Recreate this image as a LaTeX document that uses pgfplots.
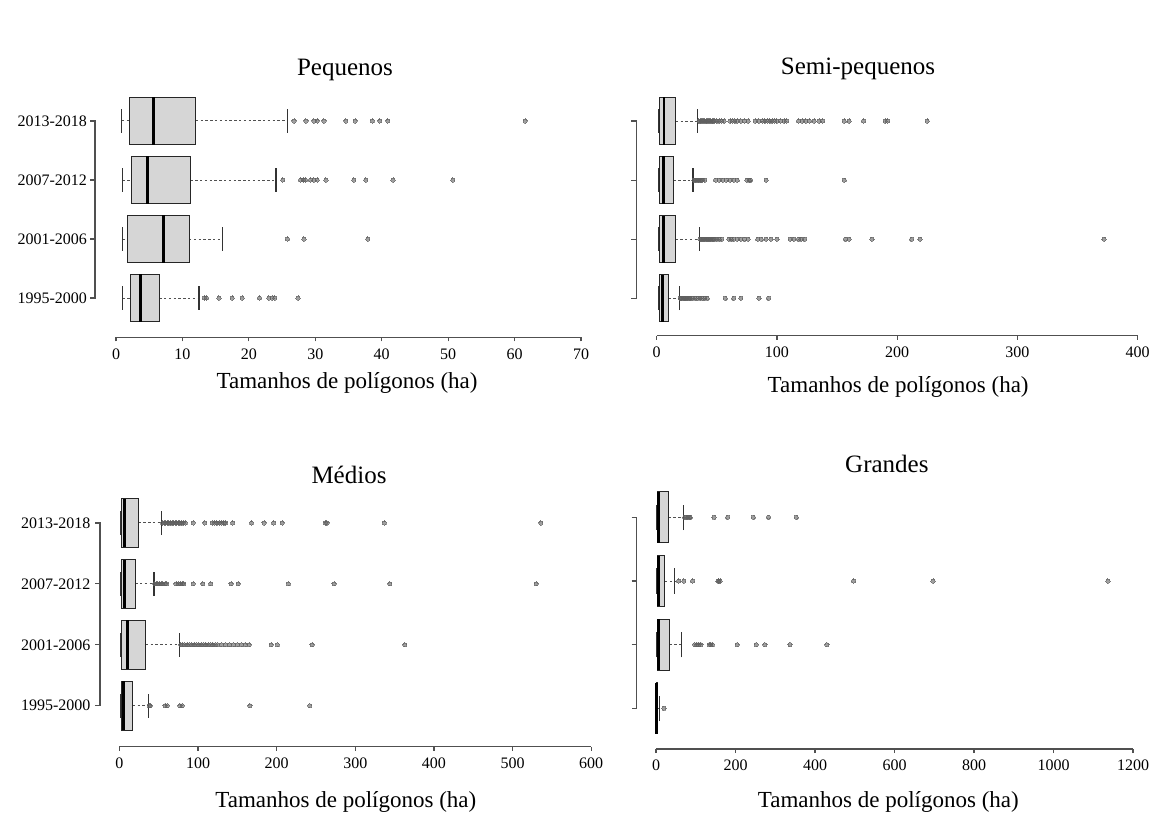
\documentclass[border=0pt]{standalone}
\usepackage{fontspec}
\setmainfont{Liberation Serif}
\usepackage{pgfplots}
\pgfplotsset{compat=1.18}
\usepgfplotslibrary{statistics}
\definecolor{boxgray}{RGB}{214,214,214}
\definecolor{axgray}{RGB}{80,80,80}
\definecolor{ptgray}{RGB}{95,95,95}
\newcommand\titlefont{\fontsize{12.5}{14}\selectfont}
\newcommand\labelfont{\fontsize{11.5}{13}\selectfont}
\pgfplotsset{
  rpanel/.style={
    scale only axis, anchor=south west, clip=false,
    axis x line=bottom, axis y line=left,
    axis line style={-, draw=axgray, line width=0.6pt},
    y axis line style={draw=none},
    ytick={1,2,3,4},
    ytick style={draw=none},
    tick align=outside,
    xtick style={draw=axgray, line width=0.6pt},
    major tick length=2pt,
    tick label style={font=\fontsize{8}{9}\selectfont, text=black},
    yticklabel style={xshift=-9pt},
    /pgf/number format/assume math mode=true,
    /pgf/number format/1000 sep={},
    scaled x ticks=false,
    ymax=4.5,
    xlabel={Tamanhos de polígonos (ha)},
  },
  rbox/.style={
    boxplot/draw direction=x,
    boxplot/box extend=0.8,
    boxplot/whisker extend=0.4,
    boxplot/every box/.style={draw=black!85, fill=boxgray, line width=0.5pt},
    boxplot/every median/.style={draw=black, line width=1.4pt},
    boxplot/draw/lower whisker/.code={
      \draw[axgray, line width=0.5pt, dash pattern=on 1.2pt off 1.2pt]
        (boxplot box cs:\pgfplotsboxplotvalue{lower whisker},0.5) --
        (boxplot box cs:\pgfplotsboxplotvalue{lower quartile},0.5);
      \draw[black!80, line width=0.5pt]
        (boxplot whisker cs:\pgfplotsboxplotvalue{lower whisker},0) --
        (boxplot whisker cs:\pgfplotsboxplotvalue{lower whisker},1);
    },
    boxplot/draw/upper whisker/.code={
      \draw[axgray, line width=0.5pt, dash pattern=on 1.2pt off 1.2pt]
        (boxplot box cs:\pgfplotsboxplotvalue{upper quartile},0.5) --
        (boxplot box cs:\pgfplotsboxplotvalue{upper whisker},0.5);
      \draw[black!80, line width=0.6pt]
        (boxplot whisker cs:\pgfplotsboxplotvalue{upper whisker},0) --
        (boxplot whisker cs:\pgfplotsboxplotvalue{upper whisker},1);
    },
  },
  rout/.style={only marks, color=ptgray, mark=*, mark size=1.05pt,
    mark options={fill=ptgray, draw=ptgray, line width=0pt, opacity=0.6}},
}
\newcommand\bracket[1]{%
  \draw[axgray, line width=0.6pt]
    ([xshift=-#1pt-2.5pt]axis cs:0,4) -- ([xshift=-#1pt]axis cs:0,4) --
    ([xshift=-#1pt]axis cs:0,1) -- ([xshift=-#1pt-2.5pt]axis cs:0,1)
    ([xshift=-#1pt-2.5pt]axis cs:0,2) -- ([xshift=-#1pt]axis cs:0,2)
    ([xshift=-#1pt-2.5pt]axis cs:0,3) -- ([xshift=-#1pt]axis cs:0,3);}
\begin{document}
\begin{tikzpicture}
\path[use as bounding box] (0,0) rectangle (582.5pt,418.5pt);
% ---------------- Pequenos
\begin{axis}[rpanel, at={(58pt,249.85pt)}, width=232.5pt, height=122.9pt,
  xmin=0, xmax=70, ymin=0.334, xtick={0,10,...,70},
  yticklabels={1995-2000,2001-2006,2007-2012,2013-2018},
  every axis title/.style={at={(axis description cs:0.4925,1)},anchor=base,yshift=7.75pt,font=\titlefont},
  title={Pequenos},
  every axis x label/.style={at={(axis description cs:0.497,0)},anchor=base,yshift=-25.35pt,font=\labelfont}]
\bracket{10.5}
\addplot[rbox, boxplot prepared={draw position=4, lower whisker=0.86, lower quartile=2.1, median=5.7, upper quartile=12.0, upper whisker=25.8}] coordinates {};
\addplot[rout] coordinates {(26.8,4) (28.6,4) (29.8,4) (30.3,4) (31.3,4) (34.6,4) (36.0,4) (38.6,4) (39.7,4) (40.9,4) (61.6,4)};
\addplot[rbox, boxplot prepared={draw position=3, lower whisker=1.0, lower quartile=2.4, median=4.7, upper quartile=11.2, upper whisker=24.1}] coordinates {};
\addplot[rout] coordinates {(25.1,3) (27.8,3) (28.2,3) (28.5,3) (29.3,3) (29.8,3) (30.3,3) (31.6,3) (35.8,3) (37.6,3) (41.7,3) (50.7,3)};
\addplot[rbox, boxplot prepared={draw position=2, lower whisker=1.0, lower quartile=1.8, median=7.1, upper quartile=11.0, upper whisker=16.0}] coordinates {};
\addplot[rout] coordinates {(25.8,2) (28.3,2) (37.9,2)};
\addplot[rbox, boxplot prepared={draw position=1, lower whisker=1.0, lower quartile=2.2, median=3.7, upper quartile=6.5, upper whisker=12.5}] coordinates {};
\addplot[rout] coordinates {(13.3,1) (13.6,1) (15.5,1) (17.5,1) (19.0,1) (21.6,1) (23.0,1) (23.5,1) (23.9,1) (27.4,1)};
\end{axis}
% ---------------- Semi-pequenos
\begin{axis}[rpanel, at={(328.35pt,250.65pt)}, width=240.5pt, height=122.1pt,
  xmin=0, xmax=400, ymin=0.366, xtick={0,100,...,400},
  yticklabels={,,,},
  every axis title/.style={at={(axis description cs:0.4185,1)},anchor=base,yshift=8.75pt,font=\titlefont},
  title={Semi-pequenos},
  every axis x label/.style={at={(axis description cs:0.502,0)},anchor=base,yshift=-28.6pt,font=\labelfont}]
\bracket{10.3}
\addplot[rbox, boxplot prepared={draw position=4, lower whisker=1.5, lower quartile=2.4, median=6, upper quartile=15.9, upper whisker=33.8}] coordinates {};
\addplot[rout] coordinates {(35,4) (36,4) (37,4) (38,4) (39,4) (40,4) (41,4) (42,4) (43,4) (44,4) (45,4) (46,4) (47,4) (48,4) (50,4) (52,4) (54,4) (56,4) (61,4) (63,4) (65,4) (67,4) (70,4) (73,4) (76,4) (82,4) (85,4) (88,4) (90,4) (92,4) (94,4) (96,4) (98,4) (100,4) (103,4) (106,4) (108,4) (118,4) (121,4) (124,4) (127,4) (131,4) (135,4) (138,4) (156,4) (160,4) (172,4) (190,4) (192,4) (225,4)};
\addplot[rbox, boxplot prepared={draw position=3, lower whisker=1.5, lower quartile=2.4, median=5.4, upper quartile=14, upper whisker=30.2}] coordinates {};
\addplot[rout] coordinates {(31,3) (32,3) (33,3) (34,3) (35,3) (36,3) (37,3) (38,3) (40,3) (49,3) (52,3) (55,3) (58,3) (61,3) (64,3) (67,3) (75,3) (77,3) (78,3) (91,3) (156,3)};
\addplot[rbox, boxplot prepared={draw position=2, lower whisker=1.5, lower quartile=2.4, median=5.4, upper quartile=15.6, upper whisker=35.3}] coordinates {};
\addplot[rout] coordinates {(36,2) (37,2) (38,2) (39,2) (40,2) (41,2) (42,2) (43,2) (44,2) (45,2) (46,2) (47,2) (48,2) (50,2) (52,2) (54,2) (60,2) (62,2) (64,2) (67,2) (70,2) (73,2) (76,2) (84,2) (87,2) (91,2) (95,2) (100,2) (111,2) (114,2) (118,2) (120,2) (123,2) (157,2) (160,2) (179,2) (212,2) (219,2) (372,2)};
\addplot[rbox, boxplot prepared={draw position=1, lower whisker=1.5, lower quartile=2.4, median=5.1, upper quartile=9.9, upper whisker=18.9}] coordinates {};
\addplot[rout] coordinates {(19.5,1) (20,1) (21,1) (22,1) (23,1) (24,1) (25,1) (26,1) (27,1) (28,1) (30,1) (32,1) (34,1) (36,1) (38,1) (40,1) (42,1) (57,1) (64,1) (70,1) (85,1) (93,1)};
\end{axis}
% ---------------- Medios
\begin{axis}[rpanel, at={(59.7pt,45.15pt)}, width=235.9pt, height=127.1pt,
  xmin=0, xmax=600, ymin=0.327, xtick={0,100,...,600},
  yticklabels={1995-2000,2001-2006,2007-2012,2013-2018},
  every axis title/.style={at={(axis description cs:0.4867,1)},anchor=base,yshift=4.75pt,font=\titlefont},
  title={Médios},
  every axis x label/.style={at={(axis description cs:0.48,0)},anchor=base,yshift=-30.2pt,font=\labelfont}]
\bracket{9.7}
\addplot[rbox, boxplot prepared={draw position=4, lower whisker=1, lower quartile=2.9, median=6.3, upper quartile=24.3, upper whisker=53.5}] coordinates {};
\addplot[rout] coordinates {(55,4) (57,4) (59,4) (61,4) (63,4) (65,4) (67,4) (69,4) (71,4) (73,4) (75,4) (77,4) (79,4) (81,4) (84,4) (94,4) (108.5,4) (118,4) (121,4) (124,4) (127,4) (130,4) (133,4) (135,4) (144,4) (168,4) (184,4) (196,4) (207,4) (262,4) (264,4) (337,4) (536,4)};
\addplot[rbox, boxplot prepared={draw position=3, lower whisker=1, lower quartile=2.9, median=6.3, upper quartile=20, upper whisker=44}] coordinates {};
\addplot[rout] coordinates {(45,3) (47,3) (49,3) (51,3) (53,3) (55,3) (58,3) (60,3) (72,3) (75,3) (78,3) (80,3) (82,3) (94,3) (106,3) (116,3) (142,3) (151,3) (215,3) (273,3) (344,3) (530,3)};
\addplot[rbox, boxplot prepared={draw position=2, lower whisker=1, lower quartile=2.9, median=10.2, upper quartile=33.6, upper whisker=76.4}] coordinates {};
\addplot[rout] coordinates {(78,2) (80,2) (83,2) (86,2) (89,2) (92,2) (95,2) (98,2) (101,2) (104,2) (107,2) (110,2) (113,2) (116,2) (119,2) (122,2) (125,2) (130,2) (135,2) (140,2) (145,2) (150,2) (155,2) (160,2) (165,2) (193,2) (201,2) (245,2) (363,2)};
\addplot[rbox, boxplot prepared={draw position=1, lower whisker=1, lower quartile=2.9, median=5.4, upper quartile=17, upper whisker=37}] coordinates {};
\addplot[rout] coordinates {(38,1) (39,1) (58,1) (61,1) (77,1) (80,1) (166,1) (242,1)};
\end{axis}
% ---------------- Grandes
\begin{axis}[rpanel, at={(328pt,44pt)}, width=238.5pt, height=131.75pt,
  xmin=0, xmax=1200, ymin=0.361, xtick={0,200,...,1200},
  yticklabels={,,,},
  every axis title/.style={at={(axis description cs:0.484,1)},anchor=base,yshift=6.75pt,font=\titlefont},
  title={Grandes},
  every axis x label/.style={at={(axis description cs:0.487,0)},anchor=base,yshift=-29pt,font=\labelfont}]
\bracket{9.7}
\addplot[rbox, boxplot prepared={draw position=4, lower whisker=1, lower quartile=2.7, median=7.2, upper quartile=31.7, upper whisker=70}] coordinates {};
\addplot[rout] coordinates {(72,4) (76,4) (80,4) (84,4) (86,4) (146,4) (180,4) (245,4) (283,4) (353,4)};
\addplot[rbox, boxplot prepared={draw position=3, lower whisker=1, lower quartile=2.7, median=7.2, upper quartile=22.6, upper whisker=47}] coordinates {};
\addplot[rout] coordinates {(57,3) (70,3) (92,3) (156,3) (158,3) (161,3) (497,3) (697,3) (1137,3)};
\addplot[rbox, boxplot prepared={draw position=2, lower whisker=1, lower quartile=2.7, median=6, upper quartile=34.4, upper whisker=65}] coordinates {};
\addplot[rout] coordinates {(97,2) (103,2) (108,2) (113,2) (134,2) (138,2) (142,2) (204,2) (252,2) (274,2) (337,2) (430,2)};
\addplot[rbox, boxplot prepared={draw position=1, lower whisker=0.3, lower quartile=0.5, median=2, upper quartile=4.5, upper whisker=9}] coordinates {};
\addplot[rout] coordinates {(20,1)};
\end{axis}
\end{tikzpicture}
\end{document}
